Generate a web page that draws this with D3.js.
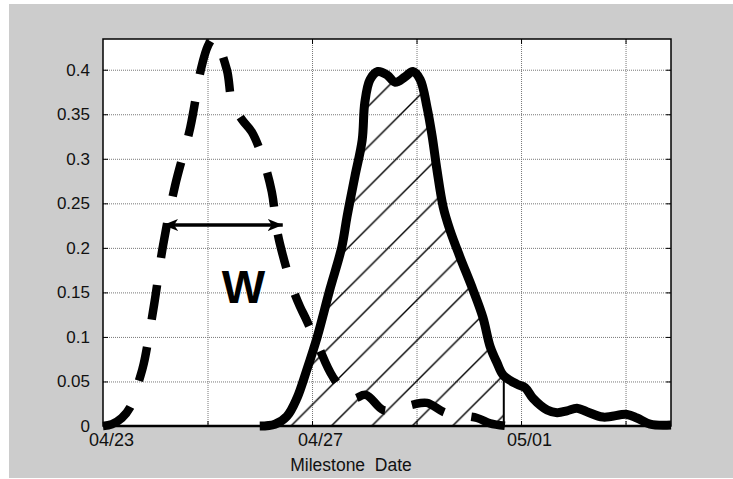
<!DOCTYPE html>
<html>
<head>
<meta charset="utf-8">
<script src="https://cdn.jsdelivr.net/npm/d3@7"></script>
<style>
  body { margin: 0; background: #fff; }
  svg { display: block; font-family: 'Liberation Sans', Arial, sans-serif; }
</style>
</head>
<body>
<svg width="733" height="479"></svg>
<script>
// values, x = days counted from 04/23
const dashedDays = [0, 0.17, 0.36, 0.52, 0.69, 0.78, 0.98, 1.15, 1.38, 1.67, 1.88, 2.01, 2.12, 2.37, 2.47, 2.66, 2.85, 3.06, 3.23, 3.33, 3.44, 3.62, 3.77, 3.87, 4.11, 4.40, 4.77, 5.03, 5.36, 5.65, 5.93, 6.20, 6.55, 7.16, 7.41, 7.73]
const dashedValues = [0, 0.002, 0.009, 0.021, 0.051, 0.07, 0.137, 0.203, 0.27, 0.335, 0.402, 0.427, 0.436, 0.40, 0.364, 0.344, 0.33, 0.30, 0.263, 0.22, 0.192, 0.156, 0.134, 0.122, 0.091, 0.055, 0.031, 0.035, 0.018, 0.019, 0.024, 0.026, 0.015, 0.009, 0.003, 0]

const solidDays = [3.00, 3.29, 3.52, 3.71, 3.90, 4.10, 4.34, 4.57, 4.67, 4.82, 4.96, 5.01, 5.11, 5.26, 5.44, 5.59, 5.78, 5.93, 6.07, 6.20, 6.30, 6.39, 6.51, 6.64, 6.83, 7.08, 7.27, 7.41, 7.54, 7.66, 7.92, 8.08, 8.23, 8.50, 8.69, 8.88, 9.07, 9.26, 9.57, 10.03, 10.22, 10.47, 10.87]
const solidValues = [0, 0.002, 0.011, 0.031, 0.063, 0.10, 0.153, 0.201, 0.235, 0.28, 0.321, 0.363, 0.389, 0.398, 0.394, 0.386, 0.392, 0.398, 0.389, 0.358, 0.325, 0.288, 0.246, 0.22, 0.19, 0.153, 0.122, 0.089, 0.071, 0.057, 0.047, 0.043, 0.031, 0.018, 0.015, 0.017, 0.020, 0.016, 0.010, 0.013, 0.009, 0.002, 0.001]

const yTicks = [0, 0.05, 0.1, 0.15, 0.2, 0.25, 0.3, 0.35, 0.4]
const xGridDays = [2, 4, 6, 8, 10]
const xTickDays = [0, 4, 8]
const xTickLabels = ['04/23', '04/27', '05/01']

// hatched part ends here
const hatchEndDay = 7.67
const hatchEndValue = 0.053

// width annotation
const arrowFrom = 1.15
const arrowTo = 3.44
const arrowValue = 0.2257
const wDay = 2.69
const wValue = 0.138

document.addEventListener('DOMContentLoaded', () => {

    const svg = d3.select('svg')

    const margin = {top: 39, right: 62, bottom: 53, left: 103}
    const width = +svg.attr('width') - margin.left - margin.right
    const height = +svg.attr('height') - margin.top - margin.bottom

    // grey panel behind everything
    svg.append('rect')
        .attr('x', 9).attr('y', 4)
        .attr('width', 724).attr('height', 474)
        .attr('fill', '#cccccc')

    const xScale = d3.scaleLinear().domain([0, 10.87]).range([0, width])
    const yScale = d3.scaleLinear().domain([0, 0.4345]).range([height, 0])

    const g = svg.append('g')
        .attr('transform', `translate(${margin.left},${margin.top})`)

    g.append('rect')
        .attr('width', width).attr('height', height)
        .attr('fill', '#fff')

    // dotted grid
    const gridY = g.append('g')
        .call(d3.axisLeft(yScale).tickValues(yTicks.slice(1)).tickSize(-width).tickFormat(''))
    const gridX = g.append('g')
        .attr('transform', `translate(0,${height})`)
        .call(d3.axisBottom(xScale).tickValues(xGridDays).tickSize(-height).tickFormat(''))
    ;[gridY, gridX].forEach(a => {
        a.select('.domain').remove()
        a.selectAll('line').attr('stroke', '#777').attr('stroke-dasharray', '1,1')
    })

    // hatch pattern
    const s = 40.4
    const defs = svg.append('defs')
    defs.append('pattern')
        .attr('id', 'hatch')
        .attr('patternUnits', 'userSpaceOnUse')
        .attr('x', 9.4).attr('y', 0)
        .attr('width', s).attr('height', s)
        .append('path')
        .attr('d', `M-2,2 L2,-2 M0,${s} L${s},0 M${s - 2},${s + 2} L${s + 2},${s - 2}`)
        .attr('stroke', '#000')
        .attr('stroke-width', 1.4)

    defs.append('clipPath').attr('id', 'hatchClip')
        .append('rect')
        .attr('x', xScale(solidDays[0]))
        .attr('y', 0)
        .attr('width', xScale(hatchEndDay) - xScale(solidDays[0]))
        .attr('height', height)

    defs.append('marker')
        .attr('id', 'head')
        .attr('viewBox', '0 -7 16 14')
        .attr('refX', 15).attr('refY', 0)
        .attr('markerUnits', 'userSpaceOnUse')
        .attr('markerWidth', 16).attr('markerHeight', 14)
        .attr('orient', 'auto-start-reverse')
        .append('path')
        .attr('d', 'M0,-6 L15,0 L0,6 L4,0 Z')
        .attr('fill', '#000')

    const solid = solidDays.map((d, i) => ({day: d, value: solidValues[i]}))
    const dashed = dashedDays.map((d, i) => ({day: d, value: dashedValues[i]}))

    const curve = d3.curveCatmullRom.alpha(0.5)
    const line = d3.line()
        .x(d => xScale(d.day))
        .y(d => yScale(d.value))
        .curve(curve)
    const area = d3.area()
        .x(d => xScale(d.day))
        .y0(yScale(0))
        .y1(d => yScale(d.value))
        .curve(curve)

    g.append('path')
        .attr('d', area(solid))
        .attr('fill', 'url(#hatch)')
        .attr('clip-path', 'url(#hatchClip)')

    g.append('line')
        .attr('x1', xScale(hatchEndDay)).attr('x2', xScale(hatchEndDay))
        .attr('y1', yScale(0)).attr('y2', yScale(hatchEndValue))
        .attr('stroke', '#000').attr('stroke-width', 2)

    // frame + inward ticks on all four sides
    const tickAxes = [
        g.append('g').call(d3.axisLeft(yScale).tickValues(yTicks).tickSizeInner(-5).tickSizeOuter(0).tickPadding(13).tickFormat(d => d)),
        g.append('g').attr('transform', `translate(${width},0)`).call(d3.axisRight(yScale).tickValues(yTicks).tickSizeInner(-5).tickSizeOuter(0).tickFormat('')),
        g.append('g').call(d3.axisTop(xScale).tickValues(xGridDays).tickSizeInner(-5).tickSizeOuter(0).tickFormat('')),
        g.append('g').attr('transform', `translate(0,${height})`).call(d3.axisBottom(xScale).tickValues(xGridDays).tickSizeInner(-5).tickSizeOuter(0).tickFormat(''))
    ]
    tickAxes.forEach(a => {
        a.select('.domain').remove()
        a.selectAll('line').attr('stroke', '#000')
    })
    tickAxes[0].selectAll('text')
        .attr('font-size', 17).attr('fill', '#111')
        .style('font-family', "'Liberation Sans', Arial, sans-serif")

    const xLabels = g.append('g')
        .attr('transform', `translate(0,${height})`)
        .call(d3.axisBottom(xScale).tickValues(xTickDays).tickSize(0).tickPadding(7).tickFormat((d, i) => xTickLabels[i]))
    xLabels.select('.domain').remove()
    xLabels.selectAll('text')
        .attr('dx', 8)
        .attr('font-size', 18).attr('fill', '#111')
        .style('font-family', "'Liberation Sans', Arial, sans-serif")

    g.append('rect')
        .attr('width', width).attr('height', height)
        .attr('fill', 'none')
        .attr('stroke', '#000').attr('stroke-width', 1.5)
    g.append('line')
        .attr('x1', 0).attr('x2', width)
        .attr('y1', height).attr('y2', height)
        .attr('stroke', '#000').attr('stroke-width', 2.5)

    // the two curves
    g.append('path')
        .attr('d', line(dashed))
        .attr('fill', 'none')
        .attr('stroke', '#000')
        .attr('stroke-width', 8.5)
        .attr('stroke-dasharray', '35,27.5')
    g.append('path')
        .attr('d', line(solid))
        .attr('fill', 'none')
        .attr('stroke', '#000')
        .attr('stroke-width', 9)
        .attr('stroke-linejoin', 'round')

    // W annotation
    g.append('line')
        .attr('x1', xScale(arrowFrom)).attr('x2', xScale(arrowTo))
        .attr('y1', yScale(arrowValue)).attr('y2', yScale(arrowValue))
        .attr('stroke', '#000').attr('stroke-width', 3.5)
        .attr('marker-start', 'url(#head)')
        .attr('marker-end', 'url(#head)')
    g.append('text')
        .attr('x', xScale(wDay)).attr('y', yScale(wValue))
        .attr('text-anchor', 'middle')
        .attr('font-size', 46).attr('font-weight', 'bold')
        .text('W')

    svg.append('text')
        .attr('x', 351).attr('y', 471)
        .attr('text-anchor', 'middle')
        .attr('font-size', 17.5).attr('fill', '#111')
        .text('Milestone  Date')
        .style('white-space', 'pre')
})
</script>
</body>
</html>
